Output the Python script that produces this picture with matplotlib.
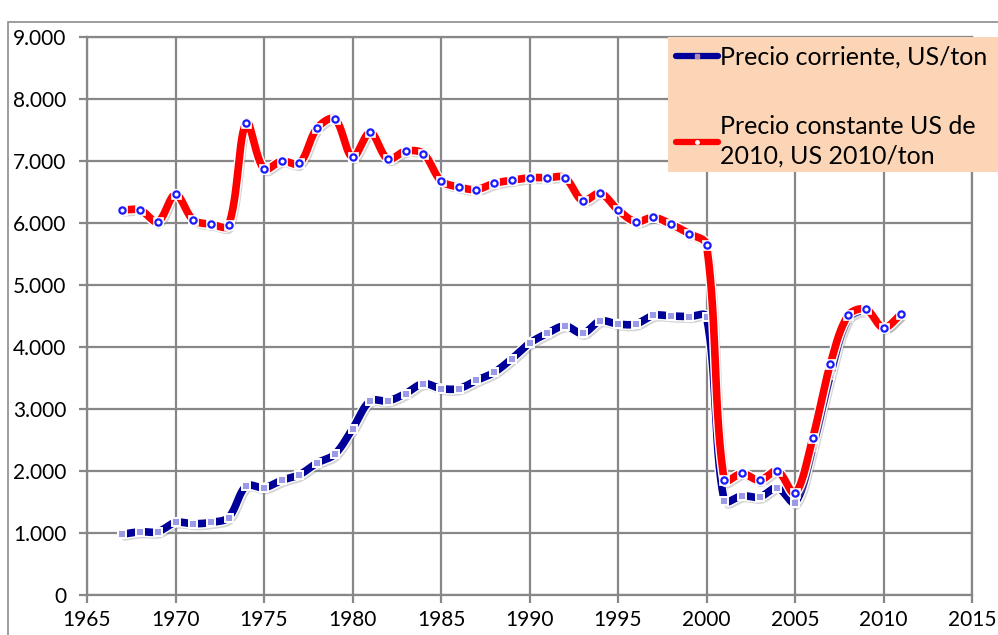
import matplotlib
matplotlib.use("Agg")
import matplotlib.pyplot as plt
import numpy as np
from matplotlib.lines import Line2D
from matplotlib.patches import Rectangle
import matplotlib.patheffects as pe
from matplotlib.ticker import FuncFormatter

plt.rcParams['font.family'] = ['Lato', 'DejaVu Sans']

years = list(range(1967, 2012))
precio_corriente = [0.98, 1.02, 1.02, 1.17, 1.15, 1.17, 1.25, 1.76, 1.73, 1.85,
                    1.94, 2.13, 2.27, 2.68, 3.13, 3.13, 3.25, 3.41, 3.33, 3.33,
                    3.46, 3.59, 3.81, 4.06, 4.22, 4.34, 4.22, 4.42, 4.37, 4.37,
                    4.51, 4.50, 4.49, 4.49, 1.52, 1.60, 1.58, 1.73, 1.49, 2.38,
                    3.55, 4.46, 4.58, 4.31, 4.53]
precio_constante = [6.21, 6.21, 6.02, 6.46, 6.05, 5.98, 5.96, 7.62, 6.87, 7.00,
                    6.96, 7.53, 7.68, 7.06, 7.46, 7.03, 7.16, 7.12, 6.68, 6.58,
                    6.54, 6.64, 6.69, 6.73, 6.73, 6.73, 6.36, 6.48, 6.21, 6.02,
                    6.09, 5.98, 5.83, 5.65, 1.85, 1.96, 1.85, 2.00, 1.64, 2.53,
                    3.73, 4.51, 4.61, 4.31, 4.53]
precio_corriente = [v * 1000 for v in precio_corriente]
precio_constante = [v * 1000 for v in precio_constante]
label_corriente = "Precio corriente, US/ton"
label_constante = "Precio constante US de\n2010, US 2010/ton"
x_ticks = list(range(1965, 2016, 5))
y_ticks = list(range(0, 9001, 1000))


def smooth(ax, xs, ys, n=30):
    """Excel-like smoothed line, computed in display (pixel) space."""
    pts = ax.transData.transform(np.column_stack([xs, ys]).astype(float))
    out = []
    m = len(pts)
    for i in range(m - 1):
        p0 = pts[i - 1] if i > 0 else pts[i]
        p1 = pts[i]
        p2 = pts[i + 1]
        p3 = pts[i + 2] if i + 2 < m else pts[i + 1]
        d01 = np.linalg.norm(p1 - p0)
        d12 = np.linalg.norm(p2 - p1)
        d23 = np.linalg.norm(p3 - p2)
        f1 = d12 / (d01 + d12) / 3.0 if d01 + d12 > 0 else 0
        f2 = d12 / (d12 + d23) / 3.0 if d12 + d23 > 0 else 0
        c1 = p1 + (p2 - p0) * f1
        c2 = p2 - (p3 - p1) * f2
        t = np.linspace(0, 1, n, endpoint=(i == m - 2))[:, None]
        seg = ((1 - t) ** 3) * p1 + 3 * ((1 - t) ** 2) * t * c1 + 3 * (1 - t) * t ** 2 * c2 + t ** 3 * p2
        out.append(seg)
    out = ax.transData.inverted().transform(np.vstack(out))
    return out[:, 0], out[:, 1]


fig = plt.figure(figsize=(9.98, 6.35), dpi=100)
ax = fig.add_axes([87 / 998, 1 - 595 / 635, (972 - 87) / 998, (595 - 37) / 635])

# outer chart border
fig.patches.append(Rectangle((8 / 998, -0.02), 1.0, (635 - 22) / 635 + 0.02,
                             transform=fig.transFigure, fill=False,
                             edgecolor='#8c8c8c', linewidth=1.2))
# legend background box
fig.patches.append(Rectangle((668 / 998, 1 - 172 / 635), 340 / 998, (172 - 37) / 635,
                             transform=fig.transFigure, facecolor='#fbd5b5',
                             edgecolor='none', zorder=9))

grid_c = '#878787'
ax.set_xlim(1965, 2015)
ax.set_ylim(0, 9000)
ax.set_xticks(x_ticks)
ax.set_yticks(y_ticks)
ax.yaxis.set_major_formatter(FuncFormatter(lambda v, p: '0' if v == 0 else f"{int(v):,}".replace(',', '.')))
ax.grid(True, color=grid_c, linewidth=1.6)
ax.set_axisbelow(True)
for s in ax.spines.values():
    s.set_color(grid_c)
    s.set_linewidth(1.6)
ax.tick_params(axis='both', direction='out', length=6, width=1.6, color=grid_c,
               labelsize=15, labelcolor='black')
ax.tick_params(axis='x', pad=5)
ax.tick_params(axis='y', pad=9)

shadow = [pe.SimpleLineShadow(offset=(1.5, -2), shadow_color='#888888', alpha=0.35),
          pe.Stroke(linewidth=7.5, foreground='white'), pe.Normal()]

sx, sy = smooth(ax, years, precio_corriente)
ax.plot(sx, sy, color='#000099', linewidth=5.5, solid_capstyle='round', path_effects=shadow, zorder=3)
ax.plot(years, precio_corriente, linestyle='none', marker='s', markersize=5.5,
        markerfacecolor='#9a9ae6', markeredgecolor='white', markeredgewidth=1.4, zorder=4)

sx, sy = smooth(ax, years, precio_constante)
ax.plot(sx, sy, color='#ff0000', linewidth=5.5, solid_capstyle='round', path_effects=shadow, zorder=5)
ax.plot(years, precio_constante, linestyle='none', marker='s', markersize=7,
        markerfacecolor='white', markeredgecolor='white', markeredgewidth=0.5, zorder=6)
ax.plot(years, precio_constante, linestyle='none', marker='o', markersize=4.5,
        markerfacecolor='white', markeredgecolor='#1a1aff', markeredgewidth=1.6, zorder=7)

handles = [Line2D([0], [0], color='#000099', linewidth=4.5, solid_capstyle='round',
                  marker='s', markersize=2.5, markerfacecolor='#b08ab0', markeredgecolor='#b08ab0'),
           Line2D([0], [0], color='#ff0000', linewidth=4.5, solid_capstyle='round',
                  marker='o', markersize=2.5, markerfacecolor='white', markeredgecolor='white')]
leg = fig.legend(handles, [label_corriente, label_constante],
                 loc='upper left', bbox_to_anchor=(668 / 998, 1 - 38 / 635),
                 frameon=False, fontsize=18, handlelength=1.7, handletextpad=0.1,
                 labelspacing=1.85, borderpad=0.3, borderaxespad=0)
for t in leg.get_texts():
    t.set_linespacing(1.35)
leg.set_zorder(10)

fig.savefig('out.png', dpi=100)
